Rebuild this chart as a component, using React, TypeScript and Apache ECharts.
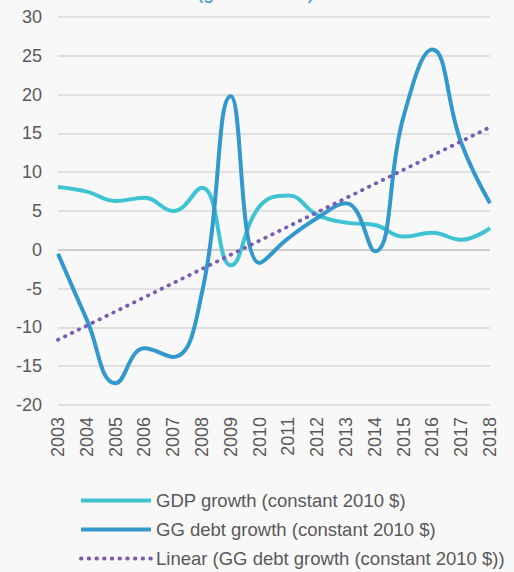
import React, { useEffect, useRef } from "react";
import * as echarts from "echarts";

const years = ["2003","2004","2005","2006","2007","2008","2009","2010","2011","2012","2013","2014","2015","2016","2017","2018"];
const gdpGrowth = [8.1, 7.5, 6.3, 6.7, 5.0, 8.0, -2.0, 5.6, 7.0, 4.5, 3.5, 3.2, 1.7, 2.2, 1.3, 2.8];
const debtGrowth = [-0.5, -9.0, -17.2, -12.7, -13.8, -5.5, 19.8, -1.7, 1.5, 4.1, 6.0, -0.2, 17.2, 25.8, 13.8, 6.0];
// Excel linear trendline endpoints (2003 and 2018)
const trendStart = -11.6;
const trendEnd = 15.8;
const yTicks = { min: -20, max: 30, interval: 5 };
const seriesNames = [
  "GDP growth (constant 2010 $)",
  "GG debt growth (constant 2010 $)",
  "Linear (GG debt growth (constant 2010 $))",
];

export default function App() {
  const ref = useRef<HTMLDivElement>(null);
  useEffect(() => {
    document.body.style.margin = "0";
    const chart = echarts.init(ref.current!, null, { renderer: "svg" });
    const trend = years.map((_, i) => (i === 0 ? trendStart : i === years.length - 1 ? trendEnd : null));
    const font = "Liberation Sans, Arial, sans-serif";
    chart.setOption({
      animation: false,
      backgroundColor: "#f8f8f8",
      textStyle: { fontFamily: font },
      graphic: [
        {
          type: "text",
          left: 197,
          top: -17,
          style: { text: "(growth rates)", fill: "#2e95d3", font: "19px " + font },
        },
      ],
      grid: { left: 58, right: 24, top: 17, bottom: 167, containLabel: false },
      xAxis: {
        type: "category",
        data: years,
        boundaryGap: false,
        axisLine: { show: false },
        axisTick: { show: false },
        axisLabel: { rotate: 90, color: "#595959", fontSize: 18, margin: 12, fontFamily: font },
      },
      yAxis: {
        type: "value",
        min: yTicks.min,
        max: yTicks.max,
        interval: yTicks.interval,
        axisLine: { show: false },
        axisTick: { show: false },
        axisLabel: { color: "#595959", fontSize: 18, margin: 16, fontFamily: font },
        splitLine: {
          lineStyle: {
            width: 1.5,
            color: [
              "#d9d9d9","#d9d9d9","#d9d9d9","#d9d9d9","#bfbfbf",
              "#d9d9d9","#d9d9d9","#d9d9d9","#d9d9d9","#d9d9d9","#d9d9d9",
            ],
          },
        },
      },
      legend: {
        orient: "vertical",
        left: 74,
        top: 486,
        height: 90,
        padding: [5, 5, 0, 5],
        itemWidth: 70,
        itemHeight: 14,
        itemGap: 10,
        itemStyle: { opacity: 0 },
        lineStyle: { width: 4 },
        textStyle: { color: "#595959", fontSize: 18.5, fontFamily: font },
        data: seriesNames,
      },
      series: [
        {
          name: seriesNames[0],
          type: "line",
          data: gdpGrowth,
          smooth: 0.45,
          showSymbol: false,
          symbol: "none",
          lineStyle: { color: "#3ec3d3", width: 4 },
          itemStyle: { color: "#3ec3d3" },
          z: 2,
        },
        {
          name: seriesNames[1],
          type: "line",
          data: debtGrowth,
          smooth: 0.45,
          showSymbol: false,
          symbol: "none",
          lineStyle: { color: "#3398cc", width: 4 },
          itemStyle: { color: "#3398cc" },
          z: 3,
        },
        {
          name: seriesNames[2],
          type: "line",
          data: trend,
          connectNulls: true,
          showSymbol: false,
          symbol: "none",
          lineStyle: { color: "#7a5cb5", width: 3.8, type: [0.5, 7.2], cap: "round" },
          itemStyle: { color: "#7a5cb5" },
          z: 4,
        },
      ],
    });
    return () => chart.dispose();
  }, []);
  return <div ref={ref} style={{ position: "absolute", left: 0, top: 0, width: 514, height: 572 }} />;
}
